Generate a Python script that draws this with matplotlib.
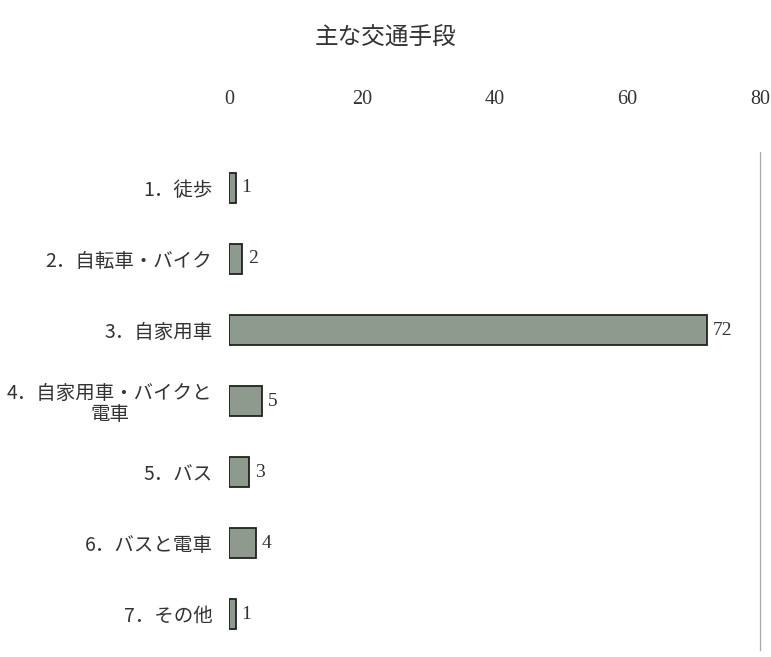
import matplotlib
matplotlib.use("Agg")
import matplotlib.pyplot as plt

categories = ["1．徒歩", "2．自転車・バイク", "3．自家用車", "4．自家用車・バイクと\n電車",
              "5．バス", "6．バスと電車", "7．その他"]
values = [1, 2, 72, 5, 3, 4, 1]
xticks = [0, 20, 40, 60, 80]
title = "主な交通手段"

jp = ["Noto Sans CJK JP", "DejaVu Sans"]
serif = ["Liberation Serif", "DejaVu Serif"]

fig = plt.figure(figsize=(7.71, 6.57), dpi=100)
ax = fig.add_axes([0.297, 0.011, 0.689, 0.757])

ypos = list(range(len(categories)))
ax.barh(ypos, values, height=0.42, color="#8f9a8e", edgecolor="#1e241e", linewidth=1.3)
for y, v in zip(ypos, values):
    ax.text(v + 0.9, y, str(v), va="center", ha="left", fontsize=14, family=serif, color="#333333")

ax.set_xlim(0, 80)
ax.set_ylim(len(categories) - 0.5, -0.5)
ax.xaxis.tick_top()
ax.set_xticks(xticks)
ax.set_xticklabels([str(t) for t in xticks], family=serif, fontsize=14.5, color="#333333")
ax.tick_params(axis="x", length=0, pad=31)
ax.set_yticks(ypos)
ax.set_yticklabels(categories, family=jp, fontsize=14, color="#333333", multialignment="center",
                   linespacing=1.0)
ax.tick_params(axis="y", length=0, pad=12)

for s in ["top", "bottom", "left"]:
    ax.spines[s].set_visible(False)
ax.spines["right"].set_color("#aaaaaa")
ax.spines["right"].set_linewidth(0.9)

fig.text(0.5, 0.942, title, ha="center", va="center", fontsize=17, family=jp, color="#333333")

fig.savefig("out.png", dpi=100)
